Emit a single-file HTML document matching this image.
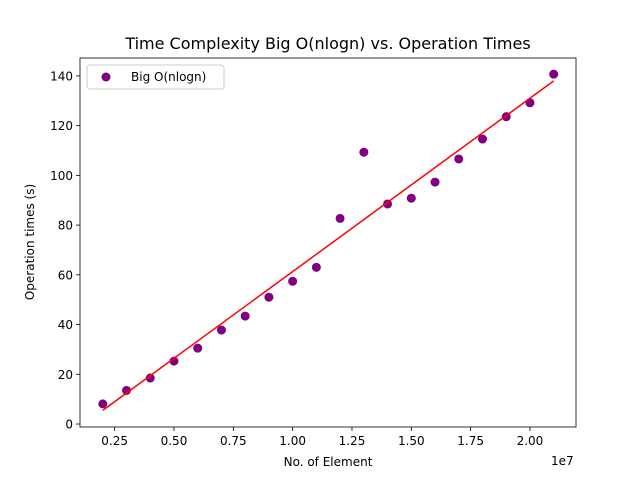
<!DOCTYPE html>
<html><head><meta charset="utf-8"><style>body{margin:0;background:#fff}svg{display:block;font-family:"DejaVu Sans","Liberation Sans",sans-serif}</style></head>
<body>
<svg id="chart" width="640" height="480"></svg>
<script>
const xValues=[2e6,3e6,4e6,5e6,6e6,7e6,8e6,9e6,1e7,1.1e7,1.2e7,1.3e7,1.4e7,1.5e7,1.6e7,1.7e7,1.8e7,1.9e7,2e7,2.1e7];
const yValues=[8.1,13.5,18.5,25.3,30.5,37.8,43.4,51,57.4,63,82.7,109.3,88.5,90.8,97.3,106.6,114.6,123.6,129.2,140.7];
const fitX=[2e6,2.1e7];
const fitY=[5.5,138];
const xTicks=[0.25,0.5,0.75,1.0,1.25,1.5,1.75,2.0];
const xTickLabels=["0.25","0.50","0.75","1.00","1.25","1.50","1.75","2.00"];
const yTicks=[0,20,40,60,80,100,120,140];
const L=80,R=576,T=58,B=427;
const xMin=1.04e6,xMax=2.194e7,yMin=-1.2,yMax=147.2;
const sx=v=>L+(v-xMin)/(xMax-xMin)*(R-L);
const sy=v=>B-(v-yMin)/(yMax-yMin)*(B-T);
const svg=document.getElementById('chart');
const NS='http://www.w3.org/2000/svg';
function mk(t,a,txt){const e=document.createElementNS(NS,t);for(const k in a)e.setAttribute(k,a[k]);if(txt!=null)e.textContent=txt;svg.appendChild(e);return e;}
let e;
e=mk('text',{x:328,y:49,'text-anchor':'middle','font-size':16},'Time Complexity Big O(nlogn) vs. Operation Times');


xTicks.forEach((t,i)=>{const x=sx(t*1e7);
e=mk('line',{x1:x,x2:x,y1:B,y2:B+4,stroke:'#000','stroke-width':0.8});


e=mk('text',{x:x,y:B+18,'text-anchor':'middle','font-size':12},xTickLabels[i]);

});
yTicks.forEach(t=>{const y=sy(t);
e=mk('line',{x1:L-4,x2:L,y1:y,y2:y,stroke:'#000','stroke-width':0.8});


e=mk('text',{x:L-7,y:y+4.5,'text-anchor':'end','font-size':12},String(t));

});
e=mk('text',{x:328,y:466,'text-anchor':'middle','font-size':12},'No. of Element');


e=mk('text',{x:551,y:465,'font-size':12},'1e7');


e=mk('text',{x:34,y:242,'text-anchor':'middle','font-size':12,transform:'rotate(-90 34 242)'},'Operation times (s)');


xValues.forEach((v,i)=>{e=mk('circle',{cx:sx(v),cy:sy(yValues[i]),r:4.5,fill:'#800080'});

});
e=mk('line',{x1:sx(fitX[0]),y1:sy(fitY[0]),x2:sx(fitX[1]),y2:sy(fitY[1]),stroke:'#ff0000','stroke-width':1.5});


e=mk('rect',{x:L,y:T,width:R-L,height:B-T,fill:'none',stroke:'#000','stroke-width':0.8});


e=mk('rect',{x:87,y:65,width:137,height:24,rx:3,fill:'#fff',stroke:'#ccc','stroke-width':1});


e=mk('circle',{cx:106,cy:77,r:4.5,fill:'#800080'});


e=mk('text',{x:131,y:81,'font-size':12},'Big O(nlogn)');


</script>
</body></html>
